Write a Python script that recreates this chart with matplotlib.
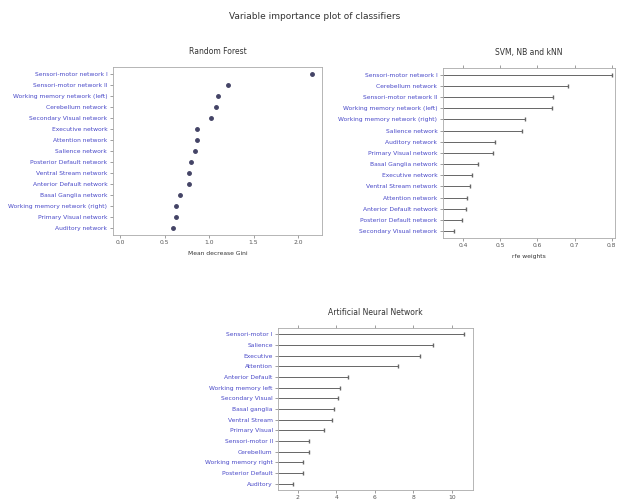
import matplotlib
matplotlib.use('Agg')
import matplotlib.pyplot as plt

# Random Forest (mean decrease Gini)
rf_labels = ['Sensori-motor network I', 'Sensori-motor network II', 'Working memory network (left)',
             'Cerebellum network', 'Secondary Visual network', 'Executive network', 'Attention network',
             'Salience network', 'Posterior Default network', 'Ventral Stream network',
             'Anterior Default network', 'Basal Ganglia network', 'Working memory network (right)',
             'Primary Visual network', 'Auditory network']
rf_values = [2.16, 1.21, 1.10, 1.08, 1.02, 0.87, 0.86, 0.84, 0.80, 0.77, 0.77, 0.67, 0.63, 0.63, 0.59]
rf_ticks = [0.0, 0.5, 1.0, 1.5, 2.0]

# SVM, NB and kNN
svm_labels = ['Sensori-motor network I', 'Cerebellum network', 'Sensori-motor network II',
              'Working memory network (left)', 'Working memory network (right)', 'Salience network',
              'Auditory network', 'Primary Visual network', 'Basal Ganglia network', 'Executive network',
              'Ventral Stream network', 'Attention network', 'Anterior Default network',
              'Posterior Default network', 'Secondary Visual network']
svm_values = [0.80, 0.682, 0.642, 0.639, 0.567, 0.559, 0.486, 0.480, 0.440, 0.424,
              0.419, 0.410, 0.408, 0.397, 0.376]
svm_ticks = [0.4, 0.5, 0.6, 0.7, 0.8]

# Artificial Neural Network
ann_labels = ['Sensori-motor I', 'Salience', 'Executive', 'Attention', 'Anterior Default',
              'Working memory left', 'Secondary Visual', 'Basal ganglia', 'Ventral Stream',
              'Primary Visual', 'Sensori-motor II', 'Cerebellum', 'Working memory right',
              'Posterior Default', 'Auditory']
ann_values = [10.6, 9.0, 8.35, 7.2, 4.6, 4.2, 4.1, 3.9, 3.8, 3.35, 2.6, 2.6, 2.3, 2.3, 1.75]
ann_ticks = [2, 4, 6, 8, 10]

label_color = '#4848c8'
tick_color = '#555555'
fs = 4.3

fig = plt.figure(figsize=(6.17, 5.03), dpi=100)
fig.text(0.51, 0.968, 'Variable importance plot of classifiers', ha='center', va='center',
         fontsize=6.5, color='#333333')


def style(ax, ticks, xlim, n, title, xlabel=None, top=False):
    ax.set_xlim(*xlim)
    ax.set_ylim(n - 0.4, -0.6)
    ax.set_yticks(range(n))
    ax.set_xticks(ticks)
    ax.set_xticklabels([str(t) for t in ticks])
    ax.tick_params(axis='both', labelsize=fs, length=2, width=0.4, colors=tick_color, pad=2)
    ax.tick_params(axis='y', labelcolor=label_color)
    if top:
        ax.tick_params(axis='x', top=True)
    for s in ax.spines.values():
        s.set_color('#aaaaaa')
        s.set_linewidth(0.6)
    ax.set_title(title, fontsize=5.5, color='#333333', pad=9)
    if xlabel:
        ax.set_xlabel(xlabel, fontsize=fs, color='#333333', labelpad=4)


# Random Forest
ax1 = fig.add_axes([0.183, 0.533, 0.339, 0.334])
y = list(range(len(rf_values)))
ax1.plot(rf_values, y, 'o', color='#444466', markersize=2.5)
ax1.set_yticklabels(rf_labels)
style(ax1, rf_ticks, (-0.08, 2.27), len(rf_values), 'Random Forest', 'Mean decrease Gini')

# SVM, NB and kNN
ax2 = fig.add_axes([0.718, 0.527, 0.279, 0.338])
y = list(range(len(svm_values)))
ax2.hlines(y, 0.346, svm_values, color='#666666', linewidth=0.7)
ax2.plot(svm_values, y, '|', color='#666666', markersize=3)
ax2.set_yticklabels(svm_labels)
style(ax2, svm_ticks, (0.346, 0.809), len(svm_values), 'SVM, NB and kNN', 'rfe weights', top=True)

# Artificial Neural Network
ax3 = fig.add_axes([0.451, 0.026, 0.316, 0.322])
y = list(range(len(ann_values)))
ax3.hlines(y, 1.0, ann_values, color='#666666', linewidth=0.7)
ax3.plot(ann_values, y, '|', color='#666666', markersize=3)
ax3.set_yticklabels(ann_labels)
style(ax3, ann_ticks, (1.0, 11.1), len(ann_values), 'Artificial Neural Network', top=True)

fig.savefig('out.png', dpi=100)
